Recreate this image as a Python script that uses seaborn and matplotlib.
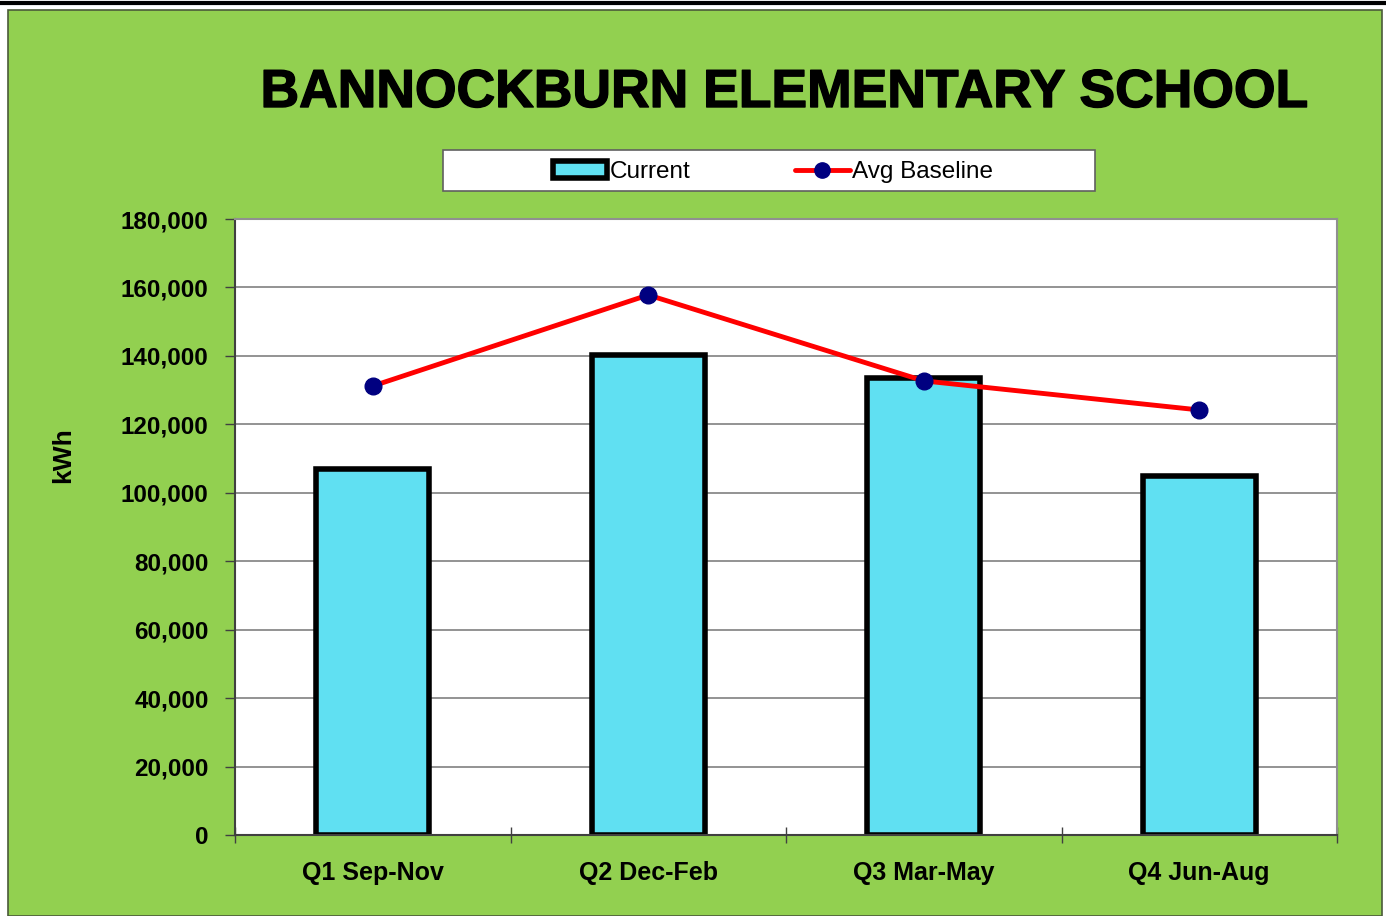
import numpy as np
import pandas as pd
import matplotlib
matplotlib.use('Agg')
import matplotlib.pyplot as plt
import matplotlib.patheffects as pe
from matplotlib.patches import Rectangle
from matplotlib.lines import Line2D
from matplotlib.ticker import FuncFormatter, FixedLocator
import seaborn as sns

# data
quarters = ['Q1 Sep-Nov', 'Q2 Dec-Feb', 'Q3 Mar-May', 'Q4 Jun-Aug']
current = [107000, 140200, 133400, 104800]
avg_baseline = [131200, 157800, 132700, 124200]

GREEN_BG = '#92D050'
BAR_CYAN = '#60E0F2'
LINE_RED = '#FF0000'
MARK_NAVY = '#000080'

sns.set_theme(style='white')
plt.rcParams['font.family'] = ['Liberation Sans Narrow', 'Liberation Sans', 'DejaVu Sans']
plt.rcParams['text.color'] = 'black'

W, H = 1386, 916
fig = plt.figure(figsize=(W / 100, H / 100), dpi=100)
fig.patch.set_facecolor('white')

# green chart area + frame lines
fig.patches.append(Rectangle((8 / W, 0), 1 - 12 / W, 1 - 10 / H,
                             transform=fig.transFigure, facecolor=GREEN_BG,
                             edgecolor='#4a5a3a', linewidth=1.2, zorder=-10))
fig.add_artist(Line2D([0, 1], [1 - 3 / H, 1 - 3 / H], transform=fig.transFigure,
                      color='black', linewidth=3))
# legend box
fig.patches.append(Rectangle((443 / W, 1 - 191 / H), (1095 - 443) / W, (191 - 150) / H,
                             transform=fig.transFigure, facecolor='white',
                             edgecolor='#606060', linewidth=1.2, zorder=-5))

ax = fig.add_axes([235 / W, 1 - 835 / H, (1337 - 235) / W, (835 - 219) / H])
ax.set_facecolor('white')

df = pd.DataFrame({'quarter': quarters, 'current': current})
sns.barplot(data=df, x='quarter', y='current', color=BAR_CYAN, saturation=1,
            width=0.41, edgecolor='black', linewidth=4, ax=ax, zorder=2)

pos = np.arange(len(quarters))
ax.plot(pos, avg_baseline, color=LINE_RED, linewidth=3.5, marker='o', markersize=12,
        markerfacecolor=MARK_NAVY, markeredgecolor=MARK_NAVY, zorder=4)

ax.set_ylim(0, 180000)
ax.set_xlim(-0.5, len(quarters) - 0.5)
ax.set_yticks(np.arange(0, 180001, 20000))
ax.yaxis.set_major_formatter(FuncFormatter(lambda v, p: f'{int(v):,}'))
ax.yaxis.grid(True, color='#808080', linewidth=1.2)
ax.set_axisbelow(True)

ax.set_xticks(pos)
ax.set_xticklabels(quarters)
ax.xaxis.set_minor_locator(FixedLocator(np.arange(-0.5, len(quarters), 1.0)))
ax.tick_params(axis='x', which='major', length=0, pad=19, labelsize=18)
ax.tick_params(axis='x', which='minor', bottom=True, direction='inout', length=12,
               width=1, color='#404040')
ax.tick_params(axis='y', left=True, direction='out', length=7, width=1, color='#404040',
               labelsize=17.5, pad=12)
for lab in ax.get_xticklabels() + ax.get_yticklabels():
    lab.set_fontweight('bold')
    lab.set_color('black')

for side in ['top', 'right']:
    ax.spines[side].set_color('#909090')
    ax.spines[side].set_linewidth(1.5)
for side in ['left', 'bottom']:
    ax.spines[side].set_color('#404040')
    ax.spines[side].set_linewidth(1.5)

ax.set_xlabel('')
ax.set_ylabel('kWh', fontsize=19, fontweight='bold', color='black')
ax.yaxis.set_label_coords(-0.156, 0.617)
ax.yaxis.label.set_va('center')

fig.text(785 / W, 1 - 93 / H, 'BANNOCKBURN ELEMENTARY SCHOOL', ha='center', va='center',
         fontsize=38.5, fontweight='bold', family=['Liberation Sans', 'DejaVu Sans'], color='black',
         path_effects=[pe.withStroke(linewidth=1.0, foreground='black')])

handles = [Rectangle((0, 0), 1, 1, facecolor=BAR_CYAN, edgecolor='black', linewidth=4),
           Line2D([0], [0], color=LINE_RED, linewidth=3.5, marker='o', markersize=11,
                  markerfacecolor=MARK_NAVY, markeredgecolor=MARK_NAVY)]
leg = fig.legend(handles, ['Current', 'Avg Baseline'], loc='center',
                 bbox_to_anchor=(773 / W, 1 - 172 / H), ncol=2, frameon=False,
                 prop={'family': ['Liberation Sans', 'DejaVu Sans'], 'size': 17.5},
                 handlelength=2.25, handletextpad=0.1, columnspacing=4.3,
                 borderpad=0.3)
for t in leg.get_texts():
    t.set_color('black')

fig.savefig('out.png', dpi=100)
